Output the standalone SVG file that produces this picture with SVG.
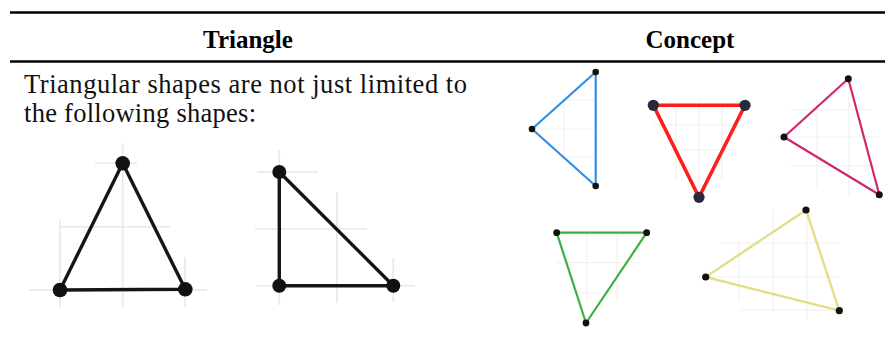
<svg xmlns="http://www.w3.org/2000/svg" width="885" height="347" viewBox="0 0 885 347">
<style>
.rule{stroke:#000;stroke-width:2.4}
.hdr{font-family:"Liberation Serif","Times New Roman",serif;font-weight:bold;font-size:25px;fill:#000}
.body{font-family:"Liberation Serif","Times New Roman",serif;font-size:26.5px;fill:#111}
.grid{stroke:#e8e8e8;stroke-width:1.6;fill:none}
.fgrid{stroke:#f1f1f1;stroke-width:1.2;fill:none}
.blk{fill:none;stroke:#151515;stroke-width:3.4;stroke-linejoin:round}
.bd{fill:#111}
.sd{fill:#111}
</style>
<rect width="885" height="347" fill="#fff"/>
<g id="table-rules">
<line class="rule" x1="10" y1="12.5" x2="885" y2="12.5"/>
<line class="rule" x1="10" y1="61.5" x2="885" y2="61.5"/>
</g>
<g id="headers">
<text class="hdr" x="248" y="48" text-anchor="middle">Triangle</text>
<text class="hdr" x="690" y="48" text-anchor="middle">Concept</text>
</g>
<g id="description">
<text class="body"><tspan x="24" y="92.5" textLength="443" lengthAdjust="spacing">Triangular shapes are not just limited to</tspan><tspan x="24" y="122" textLength="232" lengthAdjust="spacing">the following shapes:</tspan></text>
</g>
<g id="triangle-isosceles">
<path class="grid" d="M122.7 143V307M60 220V307M185 257V307M95 163H137M60 226.7H170M29 290H207"/>
<polygon class="blk" points="122.7,163.3 60,290 185.3,289.3"/>
<circle class="bd" cx="122.7" cy="163.3" r="7.3"/>
<circle class="bd" cx="60" cy="290" r="7.3"/>
<circle class="bd" cx="185.3" cy="289.3" r="7.3"/>
</g>
<g id="triangle-right">
<path class="grid" d="M279.3 150V305M337 192V303M393.3 258V302M257 172H318M255 229H367M256 285.7H415"/>
<polygon class="blk" points="279.3,172 279.3,285.7 393.3,285.7"/>
<circle class="bd" cx="279.3" cy="172" r="7"/>
<circle class="bd" cx="279.3" cy="285.7" r="7"/>
<circle class="bd" cx="393.3" cy="285.7" r="7"/>
</g>
<g id="triangle-blue">
<path class="fgrid" d="M564 100V160M564 100H595M540 129H595M564 157H595"/>
<polygon points="595.7,72 532,129 595.7,186" fill="none" stroke="#2f8fe6" stroke-width="2.2" stroke-linejoin="round"/>
<circle class="sd" cx="595.7" cy="72" r="3.3"/>
<circle class="sd" cx="532" cy="129" r="3.3"/>
<circle class="sd" cx="595.7" cy="186" r="3.3"/>
</g>
<g id="triangle-red">
<path class="fgrid" d="M699 100V197M670 150H735M652 125H745M676 105V180M722 105V180"/>
<polygon points="653.3,105.3 745,105.3 699,197.3" fill="none" stroke="#ff1c1c" stroke-width="3.6" stroke-linejoin="round"/>
<circle cx="653.3" cy="105.3" r="5.6" fill="#262a3e"/>
<circle cx="745" cy="105.3" r="5.6" fill="#262a3e"/>
<circle cx="699" cy="197.3" r="5.6" fill="#262a3e"/>
</g>
<g id="triangle-magenta">
<path class="fgrid" d="M817 100V190M849 80V195M790 110H870M775 137H880M790 166H875"/>
<polygon points="848.3,78.7 784,137 879.3,194.7" fill="none" stroke="#d12670" stroke-width="2.2" stroke-linejoin="round"/>
<circle class="sd" cx="848.3" cy="78.7" r="3.5"/>
<circle class="sd" cx="784" cy="137" r="3.5"/>
<circle class="sd" cx="879.3" cy="194.7" r="3.5"/>
</g>
<g id="triangle-green">
<path class="fgrid" d="M586.7 233V300M617 233V300M556 262.7H640M570 293H620"/>
<polygon points="556.7,232.7 646.7,232.7 586,323" fill="none" stroke="#3cb043" stroke-width="2.2" stroke-linejoin="round"/>
<circle class="sd" cx="556.7" cy="232.7" r="3.4"/>
<circle class="sd" cx="646.7" cy="232.7" r="3.4"/>
<circle class="sd" cx="586" cy="323" r="3.4"/>
</g>
<g id="triangle-yellow">
<path class="fgrid" d="M739 240V300M773 210V312M807 210V320M720 243H840M700 277H840M740 310H840"/>
<polygon points="806,210 705.7,277 839.3,310.7" fill="none" stroke="#e2df88" stroke-width="2.4" stroke-linejoin="round"/>
<circle class="sd" cx="806" cy="210" r="3.6"/>
<circle class="sd" cx="705.7" cy="277" r="3.6"/>
<circle class="sd" cx="839.3" cy="310.7" r="3.6"/>
</g>
</svg>
